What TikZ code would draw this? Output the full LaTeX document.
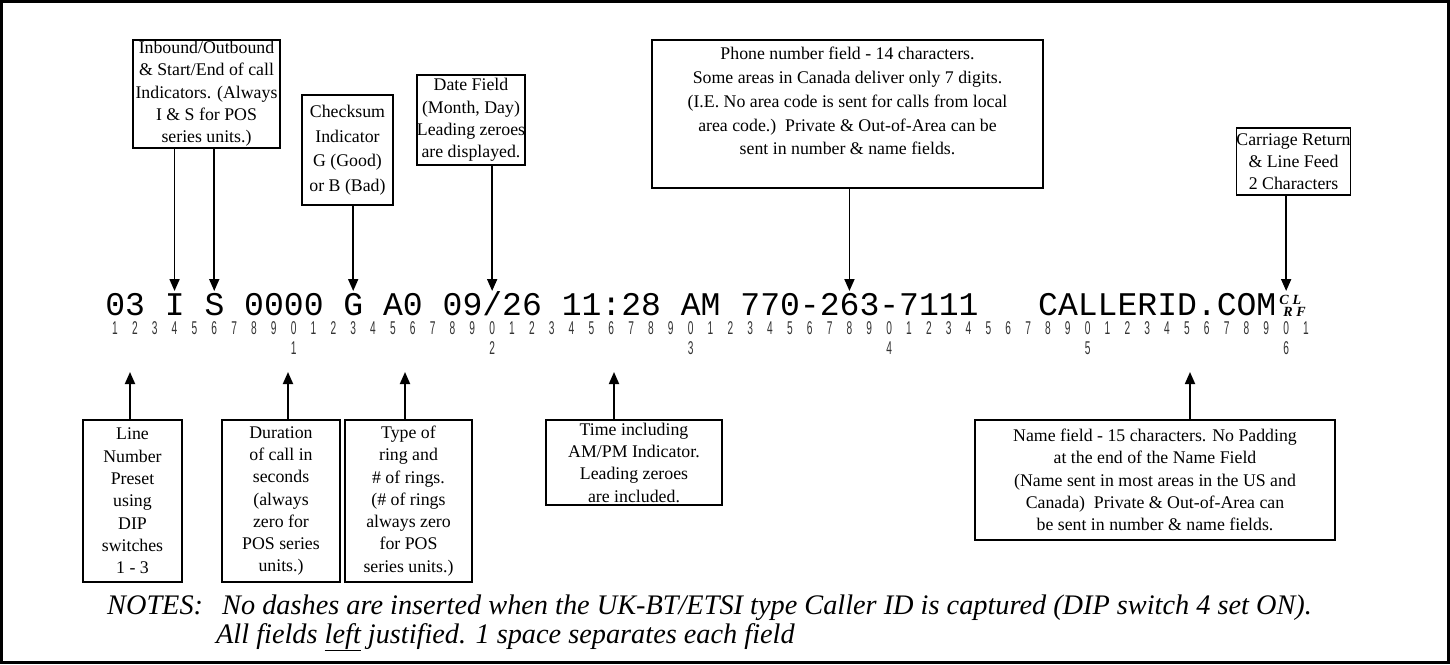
\documentclass[tikz,border=0pt]{standalone}
\usepackage{fontspec}
\setmainfont{Liberation Serif}
\newfontfamily\mainmono{Liberation Mono}
\newfontfamily\digfont[FakeStretch=0.55]{Liberation Sans}
\usetikzlibrary{arrows.meta}
\begin{document}
\begin{tikzpicture}[x=1pt,y=-1pt,
  lbl/.style={draw, line width=1.6pt, align=center, inner sep=0pt,
    font=\fontsize{17.8}{22.3}\selectfont},
  arr/.style={line width=1.8pt, -{Triangle[length=12pt,width=10pt]}},
  dig/.style={inner sep=0pt, text=black!80, font=\digfont\fontsize{18.5}{18}\selectfont},
  crlf/.style={inner sep=0pt, font=\bfseries\itshape\fontsize{14}{14}\selectfont},
  notes/.style={inner sep=0pt, anchor=base west, font=\fontsize{28.3}{32}\selectfont\itshape}]
\useasboundingbox (0,0) rectangle (1450,664);
\draw[line width=3pt] (1.5,1.5) rectangle (1448.5,662.5);
\def\p{19.85}
\def\xo{115}
% top boxes
\node[lbl, minimum width=147, minimum height=108] (t1) at (206.5,94)
  {Inbound/Outbound\\ \& Start/End of call\\ Indicators. (Always\\ I \& S for POS\\ series units.)};
\node[lbl, minimum width=91, minimum height=110, font=\fontsize{17.8}{24.5}\selectfont] (t2) at (347.5,150)
  {Checksum\\ Indicator\\ G (Good)\\ or B (Bad)};
\node[lbl, minimum width=106, minimum height=90] (t3) at (471,120)
  {Date Field\\ (Month, Day)\\ Leading zeroes\\ are displayed.};
\node[lbl, minimum width=391, minimum height=148, font=\fontsize{17.8}{23.8}\selectfont] (t4) at (847.5,114)
  {Phone number field - 14 characters.\\ Some areas in Canada deliver only 7 digits.\\ (I.E. No area code is sent for calls from local\\ area code.)\ \ Private \& Out-of-Area can be\\ sent in number \& name fields.\rule[-26pt]{0pt}{0pt}};
\node[lbl, minimum width=93, minimum height=67] (t5) at (1293.5,161.5)
  {Carriage Return\\ \& Line Feed\\ 2 Characters};
% bottom boxes
\node[lbl, minimum width=99, minimum height=162] (b1) at (132.5,501)
  {Line\\ Number\\ Preset\\ using\\ DIP\\ switches\\ 1 - 3};
\node[lbl, minimum width=118, minimum height=162] (b2) at (281,501)
  {Duration\\ of call in\\ seconds\\ (always\\ zero for\\ POS series\\ units.)};
\node[lbl, minimum width=127, minimum height=162] (b3) at (408.5,501)
  {Type of\\ ring and\\ \# of rings.\\ (\# of rings\\ always zero\\ for POS\\ series units.)};
\node[lbl, minimum width=176, minimum height=85] (b4) at (634,462.5)
  {Time including\\ AM/PM Indicator.\\ Leading zeroes\\ are included.};
\node[lbl, minimum width=360, minimum height=120] (b5) at (1155,480)
  {Name field - 15 characters. No Padding\\ at the end of the Name Field\\ (Name sent in most areas in the US and\\ Canada)\ \ Private \& Out-of-Area can\\ be sent in number \& name fields.};
% main record
\node[inner sep=0pt, anchor=base west, font=\mainmono\fontsize{33.08}{33}\selectfont] (rec)
  at ({\xo-\p/2},315) {03 I S 0000 G A0 09/26 11:28 AM 770-263-7111~~~CALLERID.COM};
\node[crlf] (cc) at (1284,300) {C};
\node[crlf] (cr) at (1288,312) {R};
\node[crlf] (cl) at (1297,300) {L};
\node[crlf] (cf) at (1301,312) {F};
% column numbers
\foreach \i in {1,...,61}{
  \pgfmathtruncatemacro\d{mod(\i,10)}
  \node[dig] (d\i) at ({\xo+(\i-1)*\p},328) {\d};
}
\foreach \t in {1,...,6}{
  \node[dig] (tens\t) at ({\xo+(\t*10-1)*\p},348) {\t};
}
% arrow targets
\coordinate (aI) at ({\xo+3*\p},291);
\coordinate (aS) at ({\xo+5*\p},291);
\coordinate (aG) at ({\xo+12*\p},291);
\coordinate (aD) at ({\xo+19*\p},291);
\coordinate (aP) at ({\xo+37*\p},291);
\coordinate (aC) at ({\xo+59*\p},291);
\draw[arr] (t1.south -| aI) -- (aI);
\draw[arr] (t1.south -| aS) -- (aS);
\draw[arr] (t2.south -| aG) -- (aG);
\draw[arr] (t3.south -| aD) -- (aD);
\draw[arr] (t4.south -| aP) -- (aP);
\draw[arr] (t5.south -| aC) -- (aC);
\coordinate (uL) at (130,372);
\coordinate (uD) at (288,372);
\coordinate (uT) at (405,372);
\coordinate (uM) at (614,372);
\coordinate (uN) at (1190,372);
\draw[arr] (b1.north -| uL) -- (uL);
\draw[arr] (b2.north -| uD) -- (uD);
\draw[arr] (b3.north -| uT) -- (uT);
\draw[arr] (b4.north -| uM) -- (uM);
\draw[arr] (b5.north -| uN) -- (uN);
% notes
\node[notes] (n0) at (107,614) {NOTES:};
\node[notes] (n1) at (222,614) {No dashes are inserted when the UK-BT/ETSI type Caller ID is captured (DIP switch 4 set ON).};
\node[notes] (n2) at (216,643) {All fields \underline{left} justified. 1 space separates each field};
\end{tikzpicture}
\end{document}
